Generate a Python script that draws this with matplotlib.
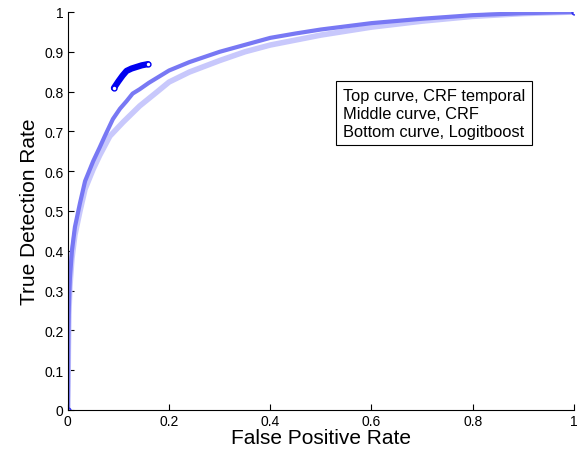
import matplotlib
matplotlib.use("Agg")
import matplotlib.pyplot as plt

plt.rcParams["font.family"] = ["Liberation Sans", "DejaVu Sans"]

# ROC points (false positive rate, true detection rate)
crf_fpr = [0.0, 0.001, 0.002, 0.004, 0.008, 0.014, 0.024, 0.034, 0.05, 0.063,
           0.073, 0.089, 0.103, 0.116, 0.128, 0.142, 0.16, 0.2, 0.24, 0.3,
           0.34, 0.4, 0.45, 0.5, 0.6, 0.7, 0.8, 0.9, 1.0]
crf_tdr = [0.0, 0.18, 0.26, 0.33, 0.40, 0.46, 0.52, 0.575, 0.625, 0.66,
           0.688, 0.731, 0.757, 0.776, 0.795, 0.806, 0.822, 0.853, 0.874, 0.9,
           0.914, 0.935, 0.946, 0.956, 0.972, 0.983, 0.992, 0.997, 1.0]

logit_fpr = [0.0, 0.001, 0.002, 0.004, 0.008, 0.014, 0.024, 0.034, 0.05, 0.063,
             0.083, 0.109, 0.142, 0.176, 0.2, 0.24, 0.3, 0.35, 0.4, 0.44,
             0.5, 0.6, 0.7, 0.8, 0.9, 1.0]
logit_tdr = [0.0, 0.15, 0.24, 0.31, 0.38, 0.44, 0.50, 0.555, 0.605, 0.64,
             0.688, 0.723, 0.764, 0.799, 0.824, 0.849, 0.878, 0.9, 0.917, 0.927,
             0.942, 0.962, 0.977, 0.989, 0.996, 1.0]

temporal_fpr = [0.091, 0.1, 0.108, 0.116, 0.126, 0.136, 0.146, 0.158]
temporal_tdr = [0.809, 0.826, 0.84, 0.852, 0.858, 0.862, 0.866, 0.869]

legend_lines = ["Top curve, CRF temporal", "Middle curve, CRF",
                "Bottom curve, Logitboost"]

fig = plt.figure(figsize=(5.85, 4.56), dpi=100)
ax = fig.add_axes([0.116, 0.0987, 0.865, 0.8728])

ax.plot(logit_fpr, logit_tdr, color="#c8c8fc", lw=4.0, solid_capstyle="butt")
ax.plot(crf_fpr, crf_tdr, color="#7878f4", lw=3.0, solid_capstyle="butt")
ax.plot([crf_fpr[0], crf_fpr[-1]], [crf_tdr[0], crf_tdr[-1]], ls="none",
        marker="o", ms=3.5, mfc="none", mec="#3030f0", mew=1)
ax.plot(temporal_fpr, temporal_tdr, color="#0000f0", lw=4.5,
        solid_capstyle="round")
ax.plot([temporal_fpr[0], temporal_fpr[-1]], [temporal_tdr[0], temporal_tdr[-1]],
        ls="none", marker="o", ms=3.5, mfc="white", mec="#0000f0", mew=1)

ax.set_xlim(0, 1)
ax.set_ylim(0, 1)
ax.set_xticks([0, 0.2, 0.4, 0.6, 0.8, 1])
ax.set_xticklabels(["0", "0.2", "0.4", "0.6", "0.8", "1"])
ax.set_yticks([i / 10 for i in range(11)])
ax.set_yticklabels(["0"] + [f"0.{i}" for i in range(1, 10)] + ["1"])
ax.tick_params(direction="in", length=4, width=0.8, labelsize=10, pad=3)
ax.spines[["top", "right"]].set_visible(False)
ax.spines[["left", "bottom"]].set_linewidth(0.8)

ax.set_xlabel("False Positive Rate", fontsize=15, labelpad=0)
ax.set_ylabel("True Detection Rate", fontsize=15, labelpad=4)

ax.text(0.5435, 0.746, "\n".join(legend_lines), fontsize=11.8,
        va="center", ha="left", linespacing=1.25,
        bbox=dict(boxstyle="square,pad=0.4", fc="white", ec="black", lw=0.8))

fig.savefig("out.png", dpi=100)
